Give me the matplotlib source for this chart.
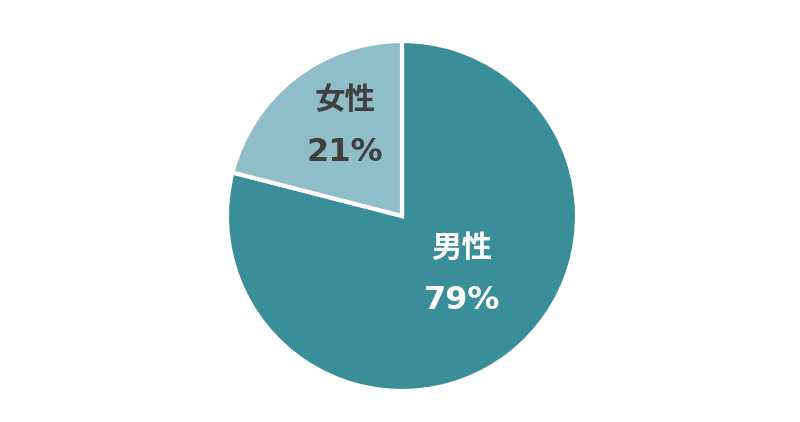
import matplotlib.pyplot as plt

plt.rcParams["font.family"] = ["Noto Sans CJK JP", "DejaVu Sans"]

# data
labels = ["男性", "女性"]
shares = [79, 21]
colors = ["#3A8E99", "#8FBEC8"]
text_colors = ["white", "#404040"]

# label layout (in pie units, radius = 1)
label_pos = [(0.343, -0.18), (-0.326, 0.665)]
pct_gap = 0.305

fig = plt.figure(figsize=(8.0, 4.22), dpi=100)
ax = fig.add_axes([227 / 800, 31 / 422, 350 / 800, 350 / 422])

ax.pie(
    shares,
    colors=colors,
    startangle=90,
    counterclock=False,
    radius=1.0,
    wedgeprops={"edgecolor": "white", "linewidth": 3.0},
)

for lab, val, tc, (x, y) in zip(labels, shares, text_colors, label_pos):
    ax.text(x, y, lab, ha="center", va="center", color=tc,
            fontsize=22, fontweight="bold")
    ax.text(x, y - pct_gap, f"{val}%", ha="center", va="center", color=tc,
            fontsize=23, fontweight="bold", family="DejaVu Sans")

ax.set_xlim(-1, 1)
ax.set_ylim(-1, 1)
ax.set_aspect("equal")
ax.axis("off")

fig.savefig("out.png", dpi=100, facecolor="white")
